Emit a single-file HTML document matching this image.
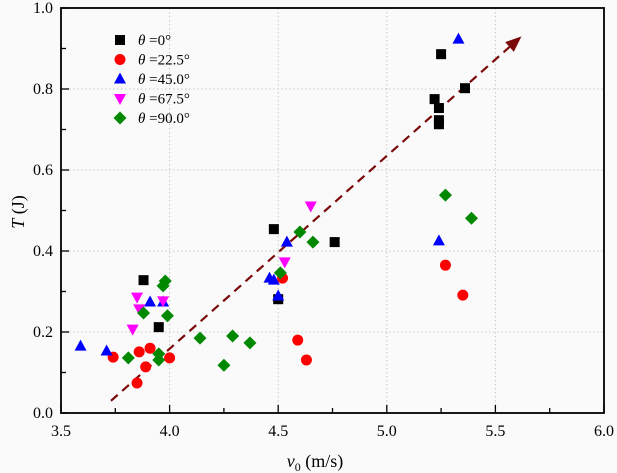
<!DOCTYPE html>
<html><head><meta charset="utf-8"><style>
body{margin:0;background:#fafafa;}
svg{display:block;font-family:"Liberation Serif",serif;}
</style></head><body>
<svg id="chart" width="617" height="473" viewBox="0 0 617 473">
<rect x="0" y="0" width="617" height="473" fill="#fafafa"/>
<g id="grid"></g>
<g id="axes"></g>
<g id="marks"></g>
<g id="legend"></g>
<text x="24" y="212" font-size="18" text-anchor="middle" transform="rotate(-90 24 212)"><tspan font-style="italic">T</tspan> (J)</text>
<text x="315" y="467" font-size="18" text-anchor="middle"><tspan font-style="italic">v</tspan><tspan font-size="12" dy="4">0</tspan><tspan dy="-4"> (m/s)</tspan></text>
</svg>
<script>
const xTicks=[3.5,4.0,4.5,5.0,5.5,6.0];
const yTicks=[0.0,0.2,0.4,0.6,0.8,1.0];
const s0x=[3.88,3.95,4.48,4.76,4.50,5.25,5.36,5.22,5.24,5.24,5.24];
const s0y=[0.328,0.212,0.454,0.422,0.281,0.886,0.802,0.775,0.753,0.723,0.713];
const s1x=[3.74,3.86,3.91,3.89,3.85,4.00,4.52,4.59,4.63,5.27,5.35];
const s1y=[0.138,0.151,0.160,0.114,0.074,0.136,0.333,0.180,0.131,0.365,0.291];
const s2x=[3.59,3.71,3.91,3.97,4.54,4.46,4.48,4.50,5.33,5.24];
const s2y=[0.165,0.153,0.274,0.274,0.422,0.333,0.328,0.289,0.923,0.425];
const s3x=[3.85,3.83,3.86,3.97,4.65,4.53];
const s3y=[0.286,0.207,0.257,0.277,0.511,0.373];
const s4x=[3.98,3.97,3.88,3.99,3.81,3.95,3.95,4.14,4.29,4.37,4.25,4.60,4.66,4.51,5.27,5.39];
const s4y=[0.326,0.314,0.247,0.240,0.136,0.146,0.131,0.185,0.190,0.173,0.118,0.447,0.422,0.346,0.538,0.481];
const trendX=[3.73,5.62];
const trendY=[0.03,0.93];
const legendLabels=["=0°","=22.5°","=45.0°","=67.5°","=90.0°"];

const NS="http://www.w3.org/2000/svg";
const L=61,R=604,T=8,B=413;
const X=v=>L+(v-3.5)/2.5*(R-L);
const Y=v=>B-(v-0)/1.0*(B-T);
function mk(tag,attrs,parent){const e=document.createElementNS(NS,tag);for(const k in attrs)e.setAttribute(k,attrs[k]);parent.appendChild(e);return e;}
const grid=document.getElementById('grid'),axes=document.getElementById('axes'),marks=document.getElementById('marks'),legend=document.getElementById('legend');
xTicks.forEach((t,i)=>{
  const x=X(t);
  if(i>0&&i<xTicks.length-1){const g=mk('line',{x1:x,x2:x,y1:T,y2:B,stroke:'#c8c8c8','stroke-dasharray':'1.5,2.5'},grid);}
  const tk=mk('line',{x1:x,x2:x,y1:B,y2:B-8,stroke:'#000','stroke-width':1.3},axes);
  
  if(i<xTicks.length-1){const m=mk('line',{x1:X(t+0.25),x2:X(t+0.25),y1:B,y2:B-5,stroke:'#000','stroke-width':1.3},axes);}
  const lb=mk('text',{x:x,y:B+23,'font-size':16,'text-anchor':'middle'},axes);lb.textContent=t.toFixed(1);
  
});
yTicks.forEach((t,i)=>{
  const y=Y(t);
  if(i>0&&i<yTicks.length-1){const g=mk('line',{x1:L,x2:R,y1:y,y2:y,stroke:'#c8c8c8','stroke-dasharray':'1.5,2.5'},grid);}
  const tk=mk('line',{x1:L,x2:L+8,y1:y,y2:y,stroke:'#000','stroke-width':1.3},axes);
  
  if(i<yTicks.length-1){const m=mk('line',{x1:L,x2:L+5,y1:Y(t+0.1),y2:Y(t+0.1),stroke:'#000','stroke-width':1.3},axes);}
  const lb=mk('text',{x:L-8,y:y+5,'font-size':16,'text-anchor':'end'},axes);lb.textContent=t.toFixed(1);
  
});
const fr=mk('rect',{x:L,y:T,width:R-L,height:B-T,fill:'none',stroke:'#000','stroke-width':1.8},axes);


function marker(kind,cx,cy,parent){
  const s=5.5;
  if(kind===0) return mk('rect',{x:cx-s+0.5,y:cy-s+0.5,width:2*s-1,height:2*s-1,fill:'#000'},parent);
  if(kind===1) return mk('circle',{cx:cx,cy:cy,r:s,fill:'#f00'},parent);
  if(kind===2) return mk('polygon',{points:`${cx},${cy-s-1} ${cx-s-0.5},${cy+s-1} ${cx+s+0.5},${cy+s-1}`,fill:'#00f'},parent);
  if(kind===3) return mk('polygon',{points:`${cx},${cy+s+1} ${cx-s-0.5},${cy-s+1} ${cx+s+0.5},${cy-s+1}`,fill:'#f0f'},parent);
  return mk('polygon',{points:`${cx},${cy-s-1} ${cx+s+1},${cy} ${cx},${cy+s+1} ${cx-s-1},${cy}`,fill:'#080'},parent);
}
const series=[[s0x,s0y],[s1x,s1y],[s2x,s2y],[s3x,s3y],[s4x,s4y]];
const snames=['theta-0','theta-22-5','theta-45','theta-67-5','theta-90'];
const x1=X(trendX[0]),y1=Y(trendY[0]),x2=X(trendX[1]),y2=Y(trendY[1]);
const ang=Math.atan2(y2-y1,x2-x1),hl=16;
const bx=x2-hl*Math.cos(ang),by=y2-hl*Math.sin(ang);
const tl=mk('line',{x1:x1,y1:y1,x2:bx,y2:by,stroke:'#7a0a0a','stroke-width':2.2,'stroke-dasharray':'9,6'},marks);

const px=-Math.sin(ang)*6.5,py=Math.cos(ang)*6.5;
const ah=mk('polygon',{points:`${x2},${y2} ${bx+px},${by+py} ${bx-px},${by-py}`,fill:'#7a0a0a'},marks);

series.forEach((sr,k)=>{
  sr[0].forEach((v,i)=>{
    const m=marker(k,X(v),Y(sr[1][i]),marks);
    
    
  });
});
legendLabels.forEach((lab,k)=>{
  const y=40+k*19.5;
  const m=marker(k,120,y,legend);
  
  
  const t=mk('text',{x:138,y:y+5,'font-size':15},legend);
  t.innerHTML='<tspan font-style="italic">θ</tspan> '+lab;
  
  
});
</script>
</body></html>
